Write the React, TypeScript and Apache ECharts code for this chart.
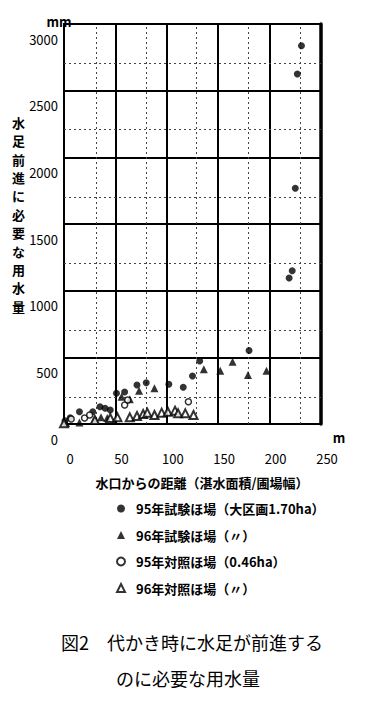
import React, { useEffect, useRef } from "react";
import * as echarts from "echarts";

// 95年試験ほ場（大区画1.70ha）: [distance m, water mm]
const test95: number[][] = [
  [1, 25], [6, 47], [15, 92], [28, 92], [35, 130], [40, 118], [45, 105],
  [51, 230], [59, 240], [71, 292], [80, 310], [102, 298], [116, 275],
  [125, 360], [132, 472], [180, 551], [219, 1095], [222, 1150],
  [225, 1768], [227, 2625], [231, 2837],
];
// 96年試験ほ場（〃）
const test96: number[][] = [
  [2, 8], [15, 12], [30, 35], [36, 50], [42, 45], [56, 205], [64, 185],
  [73, 250], [88, 268], [136, 410], [152, 400], [164, 467], [179, 368],
  [197, 400],
];
// 95年対照ほ場（0.46ha）
const ctrl95: number[][] = [
  [7, 37], [20, 45], [25, 67], [59, 142], [62, 180], [121, 167],
];
// 96年対照ほ場（〃）
const ctrl96: number[][] = [
  [0, 5], [30, 30], [45, 45], [52, 50], [64, 50], [71, 60], [77, 75],
  [81, 85], [88, 68], [95, 85], [101, 92], [108, 100], [111, 80],
  [118, 80], [126, 68],
];

const seriesNames = [
  "95年試験ほ場（大区画1.70ha）",
  "96年試験ほ場（〃）",
  "95年対照ほ場（0.46ha）",
  "96年対照ほ場（〃）",
];
const xTicks = [0, 50, 100, 150, 200, 250];
const yTicks = [0, 500, 1000, 1500, 2000, 2500, 3000];
const dashedX = [31, 80, 129, 179, 230];
const dashedY = [200, 705, 1205, 1700, 2210, 2705];

const yTitle = "水足前進に必要な用水量";
const xTitle = "水口からの距離（湛水面積/圃場幅）";
const caption1 = "図2　代かき時に水足が前進する";
const caption2 = "のに必要な用水量";

const FONT = '"Noto Sans CJK JP", "Noto Sans", sans-serif';

export default function App() {
  const ref = useRef<HTMLDivElement>(null);
  useEffect(() => {
    if (!ref.current) return;
    const chart = echarts.init(ref.current, null, { renderer: "svg" });
    const dash = { type: [2, 3] as number[], color: "#444", width: 1 };
    chart.setOption({
      animation: false,
      backgroundColor: "#fff",
      textStyle: { fontFamily: FONT },
      grid: {
        left: 64, right: 49, top: 24, bottom: 287,
        show: true, borderColor: "#000", borderWidth: 2,
      },
      xAxis: {
        type: "value", min: 0, max: 250, interval: 50,
        axisLine: { show: true, lineStyle: { color: "#000", width: 2 } },
        axisTick: { show: false },
        splitLine: { show: true, lineStyle: { color: "#000", width: 2 } },
        axisLabel: {
          color: "#000", fontSize: 13, fontFamily: FONT, margin: 28,
          padding: [0, 0, 0, 12],
          formatter: (v: number) => (xTicks.includes(v) ? String(v) : ""),
        },
      },
      yAxis: [
        {
          type: "value", min: 0, max: 3000, interval: 500,
          axisLine: { show: true, lineStyle: { color: "#000", width: 2 } },
          axisTick: { show: false },
          splitLine: { show: true, lineStyle: { color: "#000", width: 2 } },
          axisLabel: {
            color: "#000", fontSize: 13, fontFamily: FONT, margin: 6,
            verticalAlign: "top", lineHeight: 14, padding: [8, 0, 0, 0],
            formatter: (v: number) => (yTicks.includes(v) ? String(v) : ""),
          },
        },
        {
          type: "value", min: 0, max: 3000, interval: 500, position: "right",
          axisLine: { show: true, lineStyle: { color: "#000", width: 3.5 } },
          axisTick: { show: false }, axisLabel: { show: false },
          splitLine: { show: false },
        },
      ],
      legend: {
        orient: "vertical", left: 111, top: 497, itemGap: 13.5,
        itemWidth: 8, itemHeight: 8, symbolKeepAspect: true,
        textStyle: {
          fontSize: 13, fontWeight: "bold", color: "#000", fontFamily: FONT,
          padding: [0, 0, 0, 6],
        },
        data: [
          { name: seriesNames[0], icon: "circle", itemStyle: { color: "#000" } },
          { name: seriesNames[1], icon: "triangle", itemStyle: { color: "#000" } },
          { name: seriesNames[2], icon: "circle" },
          { name: seriesNames[3], icon: "triangle" },
        ],
      },
      series: [
        {
          name: seriesNames[0], type: "scatter", data: test95, symbol: "circle",
          symbolSize: 7, itemStyle: { color: "#000" }, z: 5,
          markLine: {
            silent: true, symbol: "none", label: { show: false },
            lineStyle: dash,
            data: [
              ...dashedX.map((v) => ({ xAxis: v })),
              ...dashedY.map((v) => ({ yAxis: v })),
            ],
          },
        },
        {
          name: seriesNames[1], type: "scatter", data: test96, symbol: "triangle",
          symbolSize: 8, itemStyle: { color: "#000" }, z: 5,
        },
        {
          name: seriesNames[2], type: "scatter", data: ctrl95, symbol: "circle",
          symbolSize: 6, itemStyle: { color: "#fff", borderColor: "#000", borderWidth: 1.5 }, z: 5,
        },
        {
          name: seriesNames[3], type: "scatter", data: ctrl96, symbol: "triangle",
          symbolSize: 8, itemStyle: { color: "#fff", borderColor: "#000", borderWidth: 2 }, z: 5,
        },
      ],
      graphic: [
        {
          type: "text", left: 12, top: 113,
          style: {
            text: yTitle.split("").join("\n"), fontSize: 13, fontWeight: "bold",
            lineHeight: 18.4, fill: "#000", fontFamily: FONT, align: "center",
          },
        },
        {
          type: "text", x: 202, y: 482,
          style: {
            text: xTitle, fontSize: 13, fontWeight: "bold", fill: "#000",
            fontFamily: FONT, align: "center", verticalAlign: "middle",
          },
        },
        {
          type: "text", x: 59, y: 21,
          style: { text: "mm", fontSize: 13, fontWeight: "bold", fill: "#000", fontFamily: FONT, align: "center", verticalAlign: "middle" },
        },
        {
          type: "text", x: 339, y: 437,
          style: { text: "m", fontSize: 13, fontWeight: "bold", fill: "#000", fontFamily: FONT, align: "center", verticalAlign: "middle" },
        },
        {
          type: "text", x: 192, y: 642,
          style: { text: caption1, fontSize: 18, fill: "#000", fontFamily: FONT, align: "center", verticalAlign: "middle" },
        },
        {
          type: "text", x: 188, y: 678,
          style: { text: caption2, fontSize: 18, fill: "#000", fontFamily: FONT, align: "center", verticalAlign: "middle" },
        },
      ],
    });
    return () => chart.dispose();
  }, []);
  return (
    <div
      ref={ref}
      style={{ position: "fixed", left: 0, top: 0, width: 370, height: 711, background: "#fff" }}
    />
  );
}
